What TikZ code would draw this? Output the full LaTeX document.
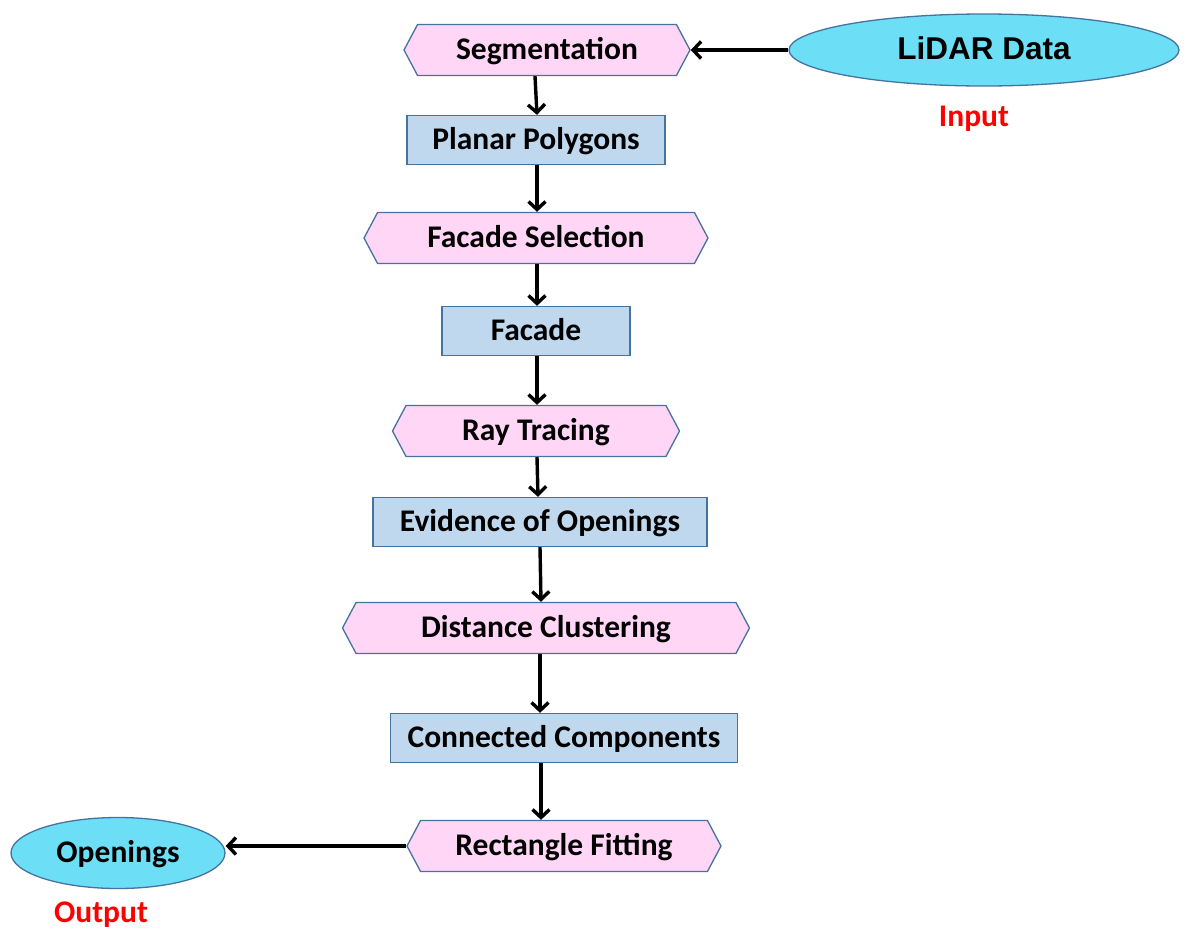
\documentclass[tikz,border=0pt]{standalone}
\usepackage{fontspec}
\setmainfont{Carlito}
\newfontfamily\arialfont{Liberation Sans}
\usetikzlibrary{arrows.meta, shapes.geometric, shapes.symbols, positioning}

\definecolor{hexpink}{RGB}{255,214,246}
\definecolor{boxblue}{RGB}{192,216,238}
\definecolor{ovalcyan}{RGB}{108,223,246}
\definecolor{edgeblue}{RGB}{70,114,160}

\begin{document}
\begin{tikzpicture}[x=1pt, y=-1pt,
    hexbox/.style={signal, signal to=west and east, signal pointer angle=124, draw=edgeblue, line width=1.3pt, fill=hexpink, minimum height=51pt, inner sep=0pt, text height=22pt, text depth=4pt, font=\bfseries\fontsize{31.5}{33}\selectfont},
    stepbox/.style={rectangle, draw=edgeblue, line width=1.3pt, fill=boxblue, minimum height=49pt, inner sep=0pt, text height=22pt, text depth=4pt, font=\bfseries\fontsize{31.5}{33}\selectfont},
    ioval/.style={ellipse, draw=edgeblue, line width=1.3pt, fill=ovalcyan, inner sep=0pt, text height=22pt, text depth=4pt, font=\bfseries\fontsize{31.5}{33}\selectfont},
    iolabel/.style={text=red, inner sep=0pt, font=\bfseries\fontsize{31.5}{33}\selectfont},
    arr/.style={line width=3.4pt, -{Straight Barb[length=8pt, width=17pt]}}]
    \useasboundingbox (0,0) rectangle (1187,929);

    % main chain
    \node[hexbox, minimum width=286pt] (seg) at (547,50) {Segmentation};
    \node[stepbox, minimum width=258pt] (poly) at (536,140) {Planar Polygons};
    \node[hexbox, minimum width=344pt] (facsel) at (536,238) {Facade Selection};
    \node[stepbox, minimum width=188pt] (facade) at (536,331) {Facade};
    \node[hexbox, minimum width=287pt] (ray) at (536,431) {Ray Tracing};
    \node[stepbox, minimum width=334pt] (evid) at (540,522) {Evidence of Openings};
    \node[hexbox, minimum width=407pt] (dist) at (546,628) {Distance Clustering};
    \node[stepbox, minimum width=347pt] (conn) at (564,738) {Connected Components};
    \node[hexbox, minimum width=314pt] (rectfit) at (564,846) {Rectangle Fitting};

    % input and output
    \node[ioval, minimum width=390pt, minimum height=72pt, font=\arialfont\bfseries\fontsize{31.5}{33}\selectfont] (lidar) at (984,50) {LiDAR Data};
    \node[iolabel] (inlbl) [below=19pt of lidar, xshift=-10pt] {Input};
    \node[ioval, minimum width=214pt, minimum height=71pt] (open) at (118,853) {Openings};
    \node[iolabel] (outlbl) [below=12pt of open, xshift=-17pt] {Output};

    \draw[arr] (lidar.west) -- (seg.east |- lidar.west);
    \draw[arr] (seg.south -| 535,0) -- (poly.north -| 537,0);
    \draw[arr] (poly.south -| 537,0) -- (facsel.north -| 537,0);
    \draw[arr] (facsel.south -| 537,0) -- (facade.north -| 537,0);
    \draw[arr] (facade.south -| 537,0) -- (ray.north -| 537,0);
    \draw[arr] (ray.south -| 537,0) -- (evid.north -| 538,0);
    \draw[arr] (evid.south -| 540,0) -- (dist.north -| 541,0);
    \draw[arr] (dist.south -| 540,0) -- (conn.north -| 540,0);
    \draw[arr] (conn.south -| 541,0) -- (rectfit.north -| 541,0);
    \draw[arr] (rectfit.west) -- (rectfit.west -| open.east);
\end{tikzpicture}
\end{document}
